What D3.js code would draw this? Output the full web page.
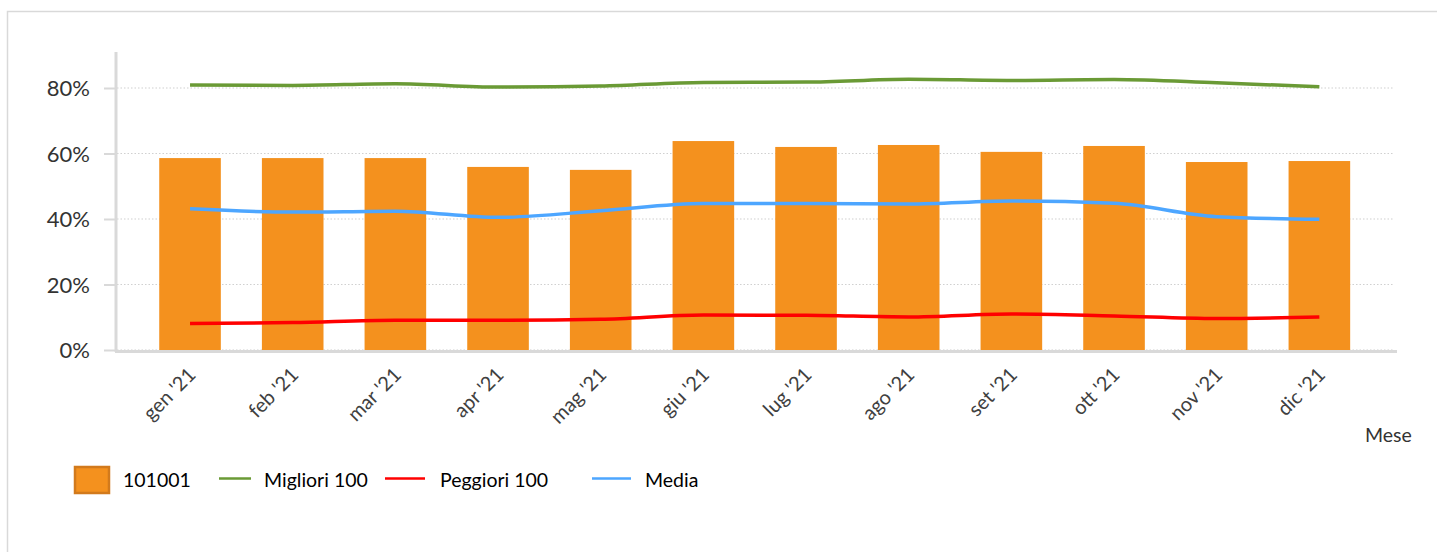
<!DOCTYPE html>
<html>
<head>
<meta charset="utf-8">
<script src="https://cdn.jsdelivr.net/npm/d3@7"></script>
<style>
  html, body { margin: 0; padding: 0; background: #fff; }
  svg { display: block; font-family: Lato, "Liberation Sans", sans-serif; }
</style>
</head>
<body>
<svg id="chart" width="1437" height="552"></svg>
<script>
const months = ["gen '21","feb '21","mar '21","apr '21","mag '21","giu '21","lug '21","ago '21","set '21","ott '21","nov '21","dic '21"];
const barValues = [58.6, 58.6, 58.6, 55.9, 55.0, 63.8, 62.0, 62.6, 60.5, 62.3, 57.4, 57.7];
const migliori = [80.9, 80.8, 81.3, 80.3, 80.6, 81.7, 81.8, 82.7, 82.3, 82.6, 81.6, 80.4];
const peggiori = [8.1, 8.4, 9.1, 9.1, 9.4, 10.7, 10.6, 10.1, 11.0, 10.4, 9.6, 10.1];
const media = [43.1, 42.1, 42.4, 40.5, 42.5, 44.7, 44.7, 44.6, 45.5, 44.8, 40.7, 39.9];
const yTicks = [0, 20, 40, 60, 80];
const legendLabels = ["101001", "Migliori 100", "Peggiori 100", "Media"];
const xAxisTitle = "Mese";

const FONT = "Lato, 'Liberation Sans', sans-serif";
const svg = d3.select("#chart");

// outer frame
svg.append("rect").attr("x", 7.5).attr("y", 11.5).attr("width", 1500).attr("height", 600)
  .attr("fill", "none").attr("stroke", "#d9d9d9").attr("stroke-width", 1.5);

const x = d3.scaleBand().domain(months).range([138.7, 1370.7]).paddingInner(0.4).paddingOuter(0.2);
const y = d3.scaleLinear().domain([0, 80]).range([350, 88]);

// gridlines
svg.append("g").selectAll("line").data(yTicks).join("line")
  .attr("x1", 117).attr("x2", 1393)
  .attr("y1", d => y(d)).attr("y2", d => y(d))
  .attr("stroke", "#d0d0d0").attr("stroke-width", 1.2).attr("stroke-dasharray", "1.5,2");

// y axis
const yAxis = d3.axisLeft(y).tickValues(yTicks).tickSize(11).tickPadding(14).tickFormat(d => d + "%");
const gy = svg.append("g").attr("transform", "translate(115,0)").call(yAxis).attr("font-family", FONT);
gy.select(".domain").remove();
gy.selectAll(".tick line").attr("stroke", "#d9d9d9").attr("stroke-width", 2);
gy.selectAll(".tick text").attr("fill", "#333").style("font-size", "22px").attr("dy", "0.36em");
svg.append("line").attr("x1", 116).attr("x2", 116).attr("y1", 52).attr("y2", 352)
  .attr("stroke", "#d9d9d9").attr("stroke-width", 3);

// bars
svg.append("g").selectAll("rect").data(barValues).join("rect")
  .attr("x", (d, i) => x(months[i]))
  .attr("width", x.bandwidth())
  .attr("y", d => y(d))
  .attr("height", d => y(0) - y(d))
  .attr("fill", "#F4911E");

// x axis line
svg.append("line").attr("x1", 115).attr("x2", 1397).attr("y1", 351.5).attr("y2", 351.5)
  .attr("stroke", "#d9d9d9").attr("stroke-width", 3);

// x labels
const xAxis = d3.axisBottom(x).tickSize(0).tickPadding(0);
const gx = svg.append("g").attr("transform", "translate(0,353)").call(xAxis).attr("font-family", FONT);
gx.select(".domain").remove();
gx.selectAll(".tick text")
  .attr("fill", "#404040").style("font-size", "20px")
  .attr("text-anchor", "end").attr("dy", 0).attr("y", 0)
  .attr("transform", "translate(7,23) rotate(-45)");

// lines
const line = d3.line()
  .x((d, i) => x(months[i]) + x.bandwidth() / 2)
  .y(d => y(d))
  .curve(d3.curveMonotoneX);
const series = [
  { values: migliori, color: "#6A9A35" },
  { values: peggiori, color: "#FF0000" },
  { values: media, color: "#4DA6FF" }
];
svg.append("g").selectAll("path").data(series).join("path")
  .attr("d", d => line(d.values))
  .attr("fill", "none").attr("stroke", d => d.color).attr("stroke-width", 3.5)
  .attr("stroke-linejoin", "round");

// axis title
svg.append("text").attr("x", 1365).attr("y", 442).text(xAxisTitle)
  .attr("fill", "#333").style("font-size", "19.5px");

// legend
const lg = svg.append("g");
lg.append("rect").attr("x", 75).attr("y", 467).attr("width", 34).attr("height", 26)
  .attr("fill", "#F4911E").attr("stroke", "#D27A1C").attr("stroke-width", 2.5);
lg.append("text").attr("x", 123).attr("y", 487).text(legendLabels[0]).attr("fill", "#000").style("font-size", "19.5px");
const legLines = [
  { x1: 219, x2: 251, tx: 264, color: "#6A9A35", label: legendLabels[1] },
  { x1: 385, x2: 425, tx: 440, color: "#FF0000", label: legendLabels[2] },
  { x1: 592, x2: 631, tx: 645, color: "#4DA6FF", label: legendLabels[3] }
];
legLines.forEach(d => {
  lg.append("line").attr("x1", d.x1).attr("x2", d.x2).attr("y1", 478.5).attr("y2", 478.5)
    .attr("stroke", d.color).attr("stroke-width", 2.5);
  lg.append("text").attr("x", d.tx).attr("y", 487).text(d.label).attr("fill", "#000").style("font-size", "19.5px");
});
</script>
</body>
</html>
